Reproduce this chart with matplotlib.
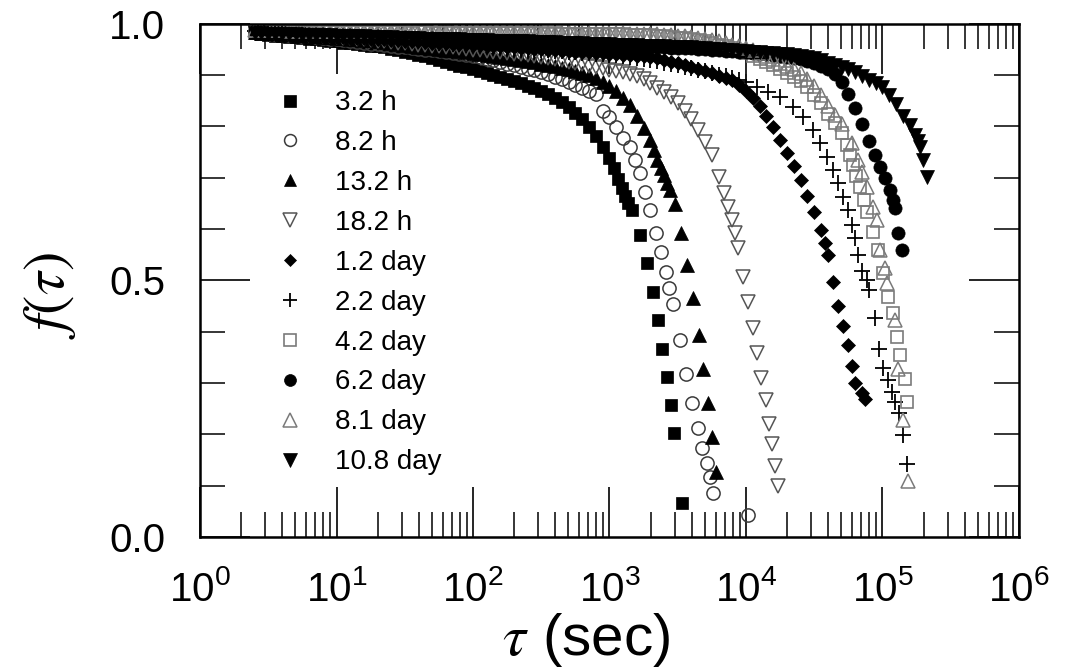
import matplotlib
matplotlib.use("Agg")
import matplotlib.pyplot as plt
from matplotlib.ticker import LogLocator, MultipleLocator, FormatStrFormatter, NullFormatter

plt.rcParams['font.family'] = ['Liberation Sans', 'DejaVu Sans']
plt.rcParams['mathtext.fontset'] = 'stix'

# delay grid (s) of the densely sampled part of the curves
tau_grid = [2.51, 2.82, 3.16, 3.55, 3.98, 4.47, 5.01, 5.62, 6.31, 7.08,
            7.94, 8.91, 10.0, 11.2, 12.6, 14.1, 15.8, 17.8, 20.0, 22.4,
            25.1, 28.2, 31.6, 35.5, 39.8, 44.7, 50.1, 56.2, 63.1, 70.8,
            79.4, 89.1, 100, 112, 126, 141, 158, 178, 200, 224,
            251, 282, 316, 355, 398, 447, 501, 562, 631, 708,
            794, 891, 1000, 1122, 1259, 1413, 1585, 1778, 1995, 2239,
            2512, 2818, 3162, 3548, 3981, 4467, 5012, 5623, 6310, 7079,
            7943, 8913, 10000, 11220, 12589, 14125, 15849, 17783, 19953, 22387,
            25119, 28184, 31623, 35481, 39811, 44668, 50119, 56234, 63096, 70795,
            79433, 89125, 100000, 112202, 125893, 141254, 158489]

labels = ['3.2 h', '8.2 h', '13.2 h', '18.2 h', '1.2 day',
          '2.2 day', '4.2 day', '6.2 day', '8.1 day', '10.8 day']

# f(tau) on tau_grid, each curve as far as it is densely sampled
f_32h = [0.981, 0.980, 0.978, 0.976, 0.975, 0.974, 0.973, 0.971, 0.970, 0.969,
         0.968, 0.966, 0.965, 0.963, 0.962, 0.960, 0.959, 0.957, 0.956, 0.954,
         0.951, 0.948, 0.945, 0.942, 0.939, 0.936, 0.932, 0.929, 0.925, 0.922,
         0.918, 0.915, 0.911, 0.907, 0.903, 0.900, 0.896, 0.892, 0.888, 0.884,
         0.879, 0.874, 0.868, 0.862, 0.855, 0.847, 0.837, 0.826, 0.814, 0.798,
         0.781, 0.760, 0.738]
f_82h = [0.983, 0.981, 0.980, 0.980, 0.979, 0.978, 0.977, 0.976, 0.975, 0.974,
         0.972, 0.970, 0.969, 0.967, 0.966, 0.964, 0.963, 0.961, 0.960, 0.958,
         0.957, 0.955, 0.954, 0.952, 0.951, 0.949, 0.948, 0.946, 0.944, 0.942,
         0.941, 0.939, 0.936, 0.934, 0.931, 0.928, 0.925, 0.922, 0.919, 0.916,
         0.912, 0.909, 0.905, 0.901, 0.896, 0.891, 0.886, 0.880, 0.874, 0.869,
         0.863, 0.830, 0.818, 0.798, 0.777]
f_132h = [0.983, 0.982, 0.981, 0.981, 0.980, 0.979, 0.978, 0.977, 0.976, 0.975,
          0.974, 0.973, 0.972, 0.971, 0.970, 0.969, 0.968, 0.967, 0.965, 0.964,
          0.962, 0.960, 0.958, 0.957, 0.955, 0.954, 0.952, 0.951, 0.949, 0.948,
          0.946, 0.944, 0.942, 0.941, 0.939, 0.937, 0.935, 0.933, 0.931, 0.929,
          0.927, 0.925, 0.922, 0.920, 0.917, 0.914, 0.911, 0.907, 0.903, 0.899,
          0.894, 0.887, 0.878, 0.868, 0.855, 0.841, 0.820, 0.796, 0.773]
f_182h = [0.985, 0.984, 0.983, 0.982, 0.981, 0.980, 0.979, 0.979, 0.978, 0.977,
          0.976, 0.975, 0.973, 0.972, 0.971, 0.970, 0.969, 0.968, 0.966, 0.965,
          0.964, 0.963, 0.962, 0.961, 0.959, 0.958, 0.957, 0.956, 0.955, 0.954,
          0.952, 0.951, 0.949, 0.948, 0.946, 0.945, 0.944, 0.943, 0.941, 0.940,
          0.939, 0.937, 0.935, 0.933, 0.931, 0.929, 0.926, 0.924, 0.921, 0.918,
          0.915, 0.913, 0.910, 0.908, 0.905, 0.902, 0.898, 0.892, 0.884, 0.875,
          0.866, 0.856, 0.845, 0.829, 0.814, 0.792, 0.769, 0.744, 0.701]
f_12d = [0.983, 0.982, 0.981, 0.981, 0.980, 0.979, 0.978, 0.978, 0.977, 0.976,
         0.975, 0.975, 0.974, 0.973, 0.972, 0.972, 0.971, 0.970, 0.969, 0.969,
         0.968, 0.967, 0.966, 0.966, 0.965, 0.964, 0.963, 0.963, 0.962, 0.961,
         0.960, 0.960, 0.959, 0.958, 0.957, 0.957, 0.956, 0.955, 0.954, 0.953,
         0.952, 0.951, 0.950, 0.949, 0.948, 0.947, 0.946, 0.945, 0.944, 0.944,
         0.943, 0.942, 0.941, 0.940, 0.939, 0.938, 0.937, 0.936, 0.934, 0.932,
         0.929, 0.926, 0.923, 0.919, 0.915, 0.911, 0.907, 0.903, 0.898, 0.894,
         0.890, 0.880, 0.868, 0.855, 0.839, 0.820, 0.798, 0.773, 0.748, 0.722,
         0.695, 0.664, 0.633, 0.597, 0.549]
f_22d = [0.985, 0.985, 0.984, 0.983, 0.982, 0.982, 0.981, 0.980, 0.979, 0.978,
         0.977, 0.977, 0.976, 0.976, 0.975, 0.974, 0.973, 0.973, 0.972, 0.971,
         0.970, 0.969, 0.968, 0.968, 0.967, 0.966, 0.964, 0.963, 0.962, 0.961,
         0.960, 0.959, 0.958, 0.958, 0.957, 0.956, 0.955, 0.954, 0.953, 0.952,
         0.951, 0.950, 0.949, 0.948, 0.947, 0.946, 0.945, 0.944, 0.943, 0.942,
         0.941, 0.940, 0.939, 0.938, 0.936, 0.934, 0.932, 0.931, 0.929, 0.927,
         0.924, 0.922, 0.919, 0.916, 0.913, 0.910, 0.907, 0.904, 0.900, 0.897,
         0.894, 0.890, 0.886]
f_42d = [0.986, 0.986, 0.985, 0.985, 0.985, 0.984, 0.985, 0.985, 0.984, 0.984,
         0.985, 0.984, 0.984, 0.984, 0.984, 0.983, 0.983, 0.983, 0.984, 0.983,
         0.983, 0.983, 0.983, 0.982, 0.983, 0.983, 0.982, 0.982, 0.983, 0.982,
         0.982, 0.982, 0.982, 0.981, 0.982, 0.982, 0.981, 0.981, 0.982, 0.981,
         0.981, 0.981, 0.981, 0.980, 0.981, 0.980, 0.980, 0.980, 0.980, 0.980,
         0.980, 0.979, 0.979, 0.979, 0.979, 0.978, 0.978, 0.977, 0.977, 0.976,
         0.975, 0.974, 0.972, 0.971, 0.969, 0.967, 0.965, 0.962, 0.959, 0.956,
         0.952, 0.948, 0.943, 0.937, 0.931, 0.925, 0.919, 0.912, 0.904, 0.896,
         0.888, 0.876, 0.860, 0.845, 0.824, 0.806, 0.786]
f_62d = [0.985, 0.985, 0.984, 0.983, 0.983, 0.982, 0.981, 0.981, 0.980, 0.980,
         0.979, 0.978, 0.978, 0.977, 0.977, 0.976, 0.976, 0.975, 0.975, 0.974,
         0.974, 0.974, 0.973, 0.972, 0.972, 0.971, 0.971, 0.970, 0.970, 0.969,
         0.969, 0.968, 0.968, 0.967, 0.967, 0.966, 0.966, 0.965, 0.965, 0.964,
         0.964, 0.963, 0.963, 0.962, 0.962, 0.961, 0.961, 0.960, 0.960, 0.959,
         0.959, 0.958, 0.958, 0.957, 0.957, 0.956, 0.956, 0.955, 0.955, 0.954,
         0.954, 0.953, 0.953, 0.952, 0.952, 0.951, 0.950, 0.949, 0.948, 0.947,
         0.946, 0.945, 0.944, 0.942, 0.941, 0.940, 0.939, 0.937, 0.935, 0.933,
         0.930, 0.927, 0.923, 0.918, 0.911, 0.902, 0.886, 0.863, 0.835, 0.805,
         0.771]
f_81d = [0.988, 0.987, 0.987, 0.987, 0.987, 0.986, 0.986, 0.986, 0.987, 0.986,
         0.986, 0.986, 0.986, 0.985, 0.985, 0.986, 0.986, 0.985, 0.985, 0.985,
         0.985, 0.985, 0.985, 0.984, 0.984, 0.984, 0.985, 0.984, 0.984, 0.984,
         0.984, 0.984, 0.984, 0.983, 0.983, 0.983, 0.984, 0.983, 0.983, 0.983,
         0.983, 0.983, 0.983, 0.982, 0.982, 0.982, 0.983, 0.982, 0.982, 0.982,
         0.982, 0.981, 0.981, 0.981, 0.981, 0.980, 0.980, 0.980, 0.980, 0.979,
         0.978, 0.977, 0.976, 0.975, 0.974, 0.972, 0.970, 0.968, 0.965, 0.962,
         0.959, 0.956, 0.952, 0.948, 0.943, 0.937, 0.931, 0.924, 0.917, 0.911,
         0.904, 0.892, 0.878, 0.860, 0.839, 0.822, 0.804]
f_108d = [0.981, 0.981, 0.980, 0.980, 0.979, 0.979, 0.979, 0.978, 0.978, 0.978,
          0.977, 0.977, 0.976, 0.976, 0.976, 0.975, 0.975, 0.974, 0.974, 0.973,
          0.973, 0.972, 0.972, 0.971, 0.971, 0.970, 0.970, 0.970, 0.970, 0.969,
          0.969, 0.968, 0.968, 0.967, 0.967, 0.966, 0.966, 0.966, 0.966, 0.965,
          0.965, 0.964, 0.964, 0.964, 0.964, 0.963, 0.963, 0.962, 0.962, 0.961,
          0.961, 0.960, 0.960, 0.959, 0.959, 0.958, 0.958, 0.957, 0.957, 0.956,
          0.956, 0.955, 0.955, 0.954, 0.954, 0.953, 0.952, 0.951, 0.950, 0.949,
          0.948, 0.947, 0.946, 0.945, 0.944, 0.943, 0.943, 0.941, 0.940, 0.938,
          0.936, 0.934, 0.932, 0.928, 0.924, 0.920, 0.916, 0.911, 0.905, 0.898,
          0.890, 0.884, 0.876, 0.861, 0.843, 0.819, 0.802]

# sparse points of the decaying tails
t_32h = [1079, 1154, 1236, 1300, 1368, 1462, 1673, 1883, 2083, 2266,
         2425, 2639, 2825, 2972, 3399]
g_32h = [0.718, 0.698, 0.679, 0.665, 0.650, 0.636, 0.588, 0.533, 0.477, 0.422,
         0.367, 0.311, 0.258, 0.202, 0.066]
t_82h = [1413, 1538, 1673, 1820, 1980, 2193, 2384, 2593, 2729, 2917,
         3281, 3631, 4018, 4446, 4761, 5176, 5445, 5728, 10350]
g_82h = [0.760, 0.734, 0.709, 0.672, 0.636, 0.593, 0.555, 0.517, 0.485, 0.453,
         0.383, 0.317, 0.260, 0.212, 0.174, 0.145, 0.116, 0.085, 0.042]
t_132h = [2118, 2229, 2384, 2506, 2636, 2773, 3020, 3342, 3698,
          4093, 4529, 4842, 5272, 5636, 6026]
g_132h = [0.753, 0.734, 0.718, 0.705, 0.689, 0.675, 0.648, 0.592,
          0.529, 0.465, 0.393, 0.328, 0.260, 0.194, 0.126]
t_182h = [6902, 7384, 7895, 8299, 8730, 9508, 10350, 11250,
          12050, 12880, 14030, 14740, 15490, 16300, 17140]
g_182h = [0.670, 0.642, 0.617, 0.592, 0.562, 0.506, 0.457,
          0.407, 0.358, 0.309, 0.266, 0.221, 0.182, 0.139, 0.100]
t_12d = [37930, 43380, 47210, 51400, 55850, 59840, 62950, 70790, 74470]
g_12d = [0.572, 0.496, 0.449, 0.410, 0.373, 0.333, 0.299, 0.280, 0.268]
t_22d = [12050, 14490, 17750, 22080, 26180, 30970, 34840, 39190, 43380, 47210,
         51400, 55850, 59840, 62950, 66220, 70790, 76920, 79620, 88100, 94190,
         100900, 109700, 117500, 123600, 132100, 141300, 151100]
g_22d = [0.876, 0.866, 0.857, 0.837, 0.818, 0.792, 0.767, 0.740, 0.714, 0.689,
         0.662, 0.636, 0.607, 0.582, 0.549, 0.519, 0.500, 0.481, 0.426, 0.367,
         0.330, 0.305, 0.282, 0.262, 0.241, 0.198, 0.143]
t_42d = [54950, 57810, 60810, 63970, 68390, 73110, 76920, 85110, 92680,
         100900, 109700, 119400, 127600, 134300, 146200, 151100]
g_42d = [0.763, 0.744, 0.724, 0.703, 0.681, 0.656, 0.633, 0.594, 0.558,
         0.514, 0.467, 0.436, 0.389, 0.354, 0.307, 0.262]
t_62d = [88100, 95940, 104200, 113500, 119400, 123600, 130000, 139000]
g_62d = [0.744, 0.721, 0.699, 0.675, 0.656, 0.640, 0.593, 0.558]
t_81d = [59840, 66220, 70790, 76920, 85110, 91200, 95940, 104200, 107900,
         123600, 130000, 141300, 153800]
g_81d = [0.767, 0.734, 0.710, 0.681, 0.642, 0.617, 0.558, 0.523, 0.494, 0.422,
         0.328, 0.227, 0.110]
t_108d = [173000, 182000, 188400, 198200, 211900]
g_108d = [0.783, 0.771, 0.759, 0.734, 0.701]

bodies = [f_32h, f_82h, f_132h, f_182h, f_12d, f_22d, f_42d, f_62d, f_81d, f_108d]
tails_t = [t_32h, t_82h, t_132h, t_182h, t_12d, t_22d, t_42d, t_62d, t_81d, t_108d]
tails_f = [g_32h, g_82h, g_132h, g_182h, g_12d, g_22d, g_42d, g_62d, g_81d, g_108d]

# marker, size, face, edge, edge width
styles = [
    ('s', 9.0, 'black', 'black', 0.5),
    ('o', 9.5, 'none', '#3a3a3a', 1.1),
    ('^', 10.0, 'black', 'black', 0.5),
    ('v', 10.5, 'none', '#555555', 1.1),
    ('D', 7.0, 'black', 'black', 0.5),
    ('+', 11.0, 'black', 'black', 1.3),
    ('s', 9.0, 'none', '#7a7a7a', 1.2),
    ('o', 9.5, 'black', 'black', 0.5),
    ('^', 10.5, 'none', '#7a7a7a', 1.1),
    ('v', 10.5, 'black', 'black', 0.5),
]

fig = plt.figure(figsize=(10.65, 6.68), dpi=100)
ax = fig.add_axes([0.1878, 0.1961, 0.7690, 0.7687])

for body, tt, tf, st, lab in zip(bodies, tails_t, tails_f, styles, labels):
    tau = tau_grid[:len(body)] + tt
    f = body + tf
    m, ms, fc, ec, mew = st
    ax.plot(tau, f, linestyle='none', marker=m, markersize=ms,
            markerfacecolor=fc, markeredgecolor=ec, markeredgewidth=mew,
            color=ec, label=lab)

ax.set_xscale('log')
ax.set_xlim(1, 1e6)
ax.set_ylim(0, 1.0)
ax.xaxis.set_major_locator(LogLocator(base=10, numticks=10))
ax.xaxis.set_minor_locator(LogLocator(base=10, subs=range(2, 10), numticks=100))
ax.xaxis.set_minor_formatter(NullFormatter())
ax.yaxis.set_major_locator(MultipleLocator(0.5))
ax.yaxis.set_minor_locator(MultipleLocator(0.1))
ax.yaxis.set_major_formatter(FormatStrFormatter('%.1f'))

ax.tick_params(which='both', direction='in', top=True, right=True)
ax.tick_params(which='major', length=36, width=1.2, labelsize=29)
ax.tick_params(which='minor', length=18, width=1.1)
ax.tick_params(axis='x', which='major', pad=24)
ax.tick_params(axis='y', which='major', pad=25)
for sp in ax.spines.values():
    sp.set_linewidth(1.8)

ax.set_xlabel(r'$\tau$ (sec)', fontsize=42)
ax.xaxis.set_label_coords(0.471, -0.145)
ax.set_ylabel(r'$f(\tau)$', fontsize=42)
ax.yaxis.set_label_coords(-0.149, 0.471)

ax.legend(loc='upper left', bbox_to_anchor=(0.0928, 0.870), frameon=False,
          fontsize=20, markerscale=0.9, handlelength=1.0, handletextpad=1.12,
          labelspacing=0.50, borderpad=0, borderaxespad=0, numpoints=1)

fig.savefig('out.png', dpi=100)
